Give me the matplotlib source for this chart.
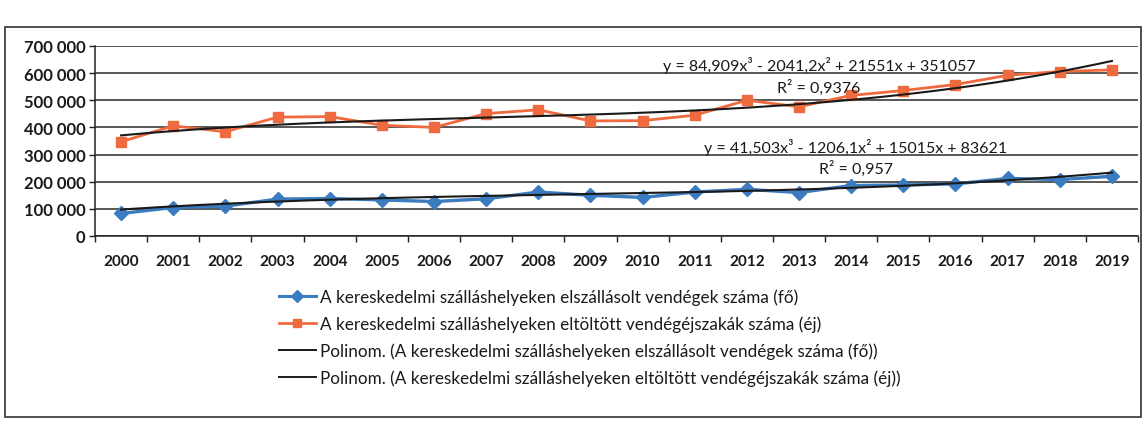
import numpy as np
import matplotlib
matplotlib.use("Agg")
import matplotlib.pyplot as plt
from matplotlib.ticker import FuncFormatter, FixedLocator
from matplotlib.lines import Line2D
from matplotlib.patches import Rectangle

# ---- data ----
years = [str(y) for y in range(2000, 2020)]
guests = [83000, 105000, 110000, 136000, 138000, 133000, 127000, 137000, 162000, 150000,
          142000, 162000, 172000, 160000, 186000, 188000, 192000, 212000, 208000, 220000]
nights = [347000, 406000, 384000, 438000, 440000, 408000, 400000, 451000, 465000, 424000,
          425000, 445000, 500000, 476000, 518000, 536000, 558000, 592000, 606000, 612000]
# trendline coefficients (cubic, x = 1..20) as printed on the chart
coef_guests = [41.503, -1206.1, 15015, 83621]
coef_nights = [84.909, -2041.2, 21551, 351057]
eq_guests = "y = 41,503x³ - 1206,1x² + 15015x + 83621"
r2_guests = "R² = 0,957"
eq_nights = "y = 84,909x³ - 2041,2x² + 21551x + 351057"
r2_nights = "R² = 0,9376"
labels = [
    "A kereskedelmi szálláshelyeken elszállásolt vendégek száma (fő)",
    "A kereskedelmi szálláshelyeken eltöltött vendégéjszakák száma (éj)",
    "Polinom. (A kereskedelmi szálláshelyeken elszállásolt vendégek száma (fő))",
    "Polinom. (A kereskedelmi szálláshelyeken eltöltött vendégéjszakák száma (éj))",
]

BLUE = "#3B7CC0"
RED = "#EF6A3E"
FONT = ["Lato", "DejaVu Sans"]
plt.rcParams["font.family"] = FONT

W, H = 1145, 427
fig = plt.figure(figsize=(W / 100, H / 100), dpi=100)
fig.patch.set_facecolor("white")

left, right, top, bottom = 95, 1138, 47, 237
ax = fig.add_axes([left / W, 1 - bottom / H, (right - left) / W, (bottom - top) / H])

x = np.arange(len(years))
ax.plot(x, guests, color=BLUE, lw=2.4, marker="D", ms=7.5, zorder=3)
ax.plot(x, nights, color=RED, lw=2.0, marker="s", ms=7, zorder=3)

xs = np.linspace(1, len(years), 200)
ax.plot(xs - 1, np.polyval(coef_guests, xs), color="#1a1a1a", lw=1.5, zorder=4)
ax.plot(xs - 1, np.polyval(coef_nights, xs), color="#1a1a1a", lw=1.5, zorder=4)

ax.set_xlim(-0.5, len(years) - 0.5)
ax.set_ylim(0, 700000)
ax.set_yticks(np.arange(0, 700001, 100000))
ax.yaxis.set_major_formatter(FuncFormatter(lambda v, p: f"{int(v):,}".replace(",", " ")))
ax.set_xticks(x)
ax.set_xticklabels(years)
ax.xaxis.set_minor_locator(FixedLocator(np.arange(-0.5, len(years), 1)))
ax.tick_params(axis="x", which="major", length=0, pad=13, labelsize=11)
ax.tick_params(axis="x", which="minor", length=4, width=1, color="#222222")
ax.tick_params(axis="y", length=4, width=1, color="#222222", pad=3, labelsize=12)
for lab in ax.get_xticklabels() + ax.get_yticklabels():
    lab.set_fontweight("bold")
    lab.set_color("#1a1a1a")
ax.grid(axis="y", color="#2a2a2a", lw=1.1)
ax.set_axisbelow(True)
for s in ["top", "right"]:
    ax.spines[s].set_visible(False)
for s in ["left", "bottom"]:
    ax.spines[s].set_color("#222222")
    ax.spines[s].set_linewidth(1.1)

# trendline equations
tkw = dict(ha="center", va="center", fontsize=11.5, color="#1a1a1a")
ax.text(13.38, 632000, eq_nights, **tkw)
ax.text(13.38, 548000, r2_nights, **tkw)
ax.text(14.09, 330000, eq_guests, **tkw)
ax.text(14.09, 252000, r2_guests, **tkw)

handles = [
    Line2D([], [], color=BLUE, lw=2.2, marker="D", ms=6),
    Line2D([], [], color=RED, lw=2.0, marker="s", ms=5.5),
    Line2D([], [], color="#1a1a1a", lw=1.4),
    Line2D([], [], color="#1a1a1a", lw=1.4),
]
fig.legend(handles, labels, loc="upper left", bbox_to_anchor=(270 / W, 1 - 281 / H),
           frameon=False, fontsize=12.3, handlelength=2.2, handletextpad=0.2,
           labelspacing=0.6, borderpad=0, labelcolor="#1a1a1a")

# outer chart frame
fig.add_artist(Rectangle((5 / W, 1 - 418 / H), 1136 / W, 390 / H, transform=fig.transFigure,
                         fill=False, edgecolor="#333333", lw=1.2))

fig.savefig("out.png", dpi=100)
